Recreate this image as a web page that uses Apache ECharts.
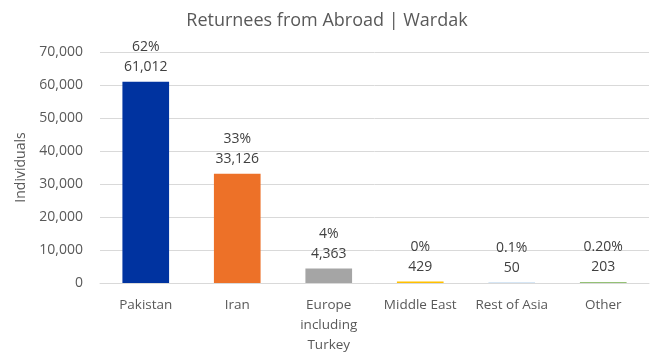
<!DOCTYPE html>
<html><head><meta charset="utf-8">
<script src="https://cdn.jsdelivr.net/npm/echarts@6/dist/echarts.min.js"></script>
<style>html,body{margin:0;padding:0;background:#fff}#c{width:654px;height:354px}</style>
</head><body><div id="c"></div>
<script>
const categories = ['Pakistan', 'Iran', 'Europe\nincluding\nTurkey', 'Middle East', 'Rest of Asia', 'Other'];
const values = [61012, 33126, 4363, 429, 50, 203];
const percents = ['62%', '33%', '4%', '0%', '0.1%', '0.20%'];
const colors = ['#0033A0', '#ED7128', '#A5A5A5', '#FFC000', '#5B9BD5', '#70AD47'];
const FONT = '"Open Sans", sans-serif';
const chart = echarts.init(document.getElementById('c'));
chart.setOption({
  animation: false,
  title: { text: 'Returnees from Abroad | Wardak', left: 'center', top: 7,
    textStyle: { fontFamily: FONT, fontSize: 18, fontWeight: 'normal', color: '#595959' } },
  grid: { left: 100, right: 5, top: 52, bottom: 71, outerBoundsMode: 'none' },
  xAxis: { type: 'category', data: categories,
    axisLine: { lineStyle: { color: '#D9D9D9' } }, axisTick: { show: false },
    axisLabel: { interval: 0, fontFamily: FONT, fontSize: 13.5, color: '#595959', lineHeight: 20, margin: 12 } },
  yAxis: { type: 'value', min: 0, max: 70000, interval: 10000,
    name: 'Individuals', nameLocation: 'middle', nameGap: 70, nameRotate: 90,
    nameTextStyle: { fontFamily: FONT, fontSize: 14, color: '#595959' },
    axisLabel: { fontFamily: FONT, fontSize: 14, color: '#595959', margin: 17,
      formatter: v => v.toLocaleString('en-US') },
    splitLine: { lineStyle: { color: '#D9D9D9' } } },
  series: [{ type: 'bar', barWidth: '51%',
    data: values.map((v, i) => ({ value: v, itemStyle: { color: colors[i] } })),
    label: { show: true, position: 'top', distance: 5, fontFamily: FONT, fontSize: 14, color: '#404040', lineHeight: 20,
      formatter: p => percents[p.dataIndex] + '\n' + p.value.toLocaleString('en-US') } }]
});
</script></body></html>
